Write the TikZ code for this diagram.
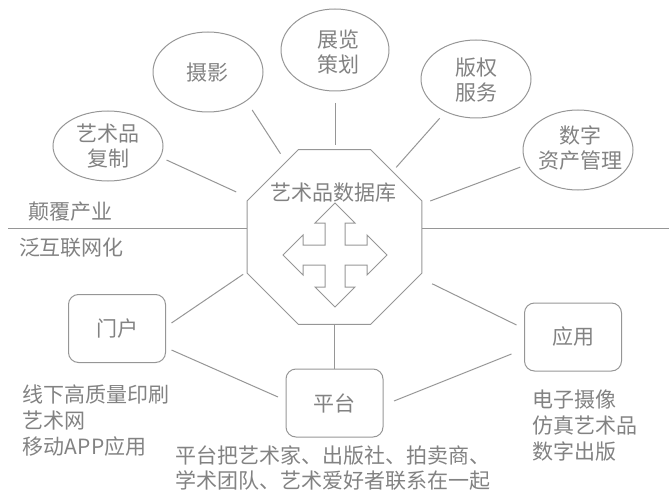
\documentclass[tikz,border=0pt]{standalone}
\usepackage{fontspec}
\setmainfont{Noto Sans CJK SC}
\usetikzlibrary{shapes.geometric}
\definecolor{txt}{RGB}{130,130,130}
\definecolor{ln}{RGB}{150,150,150}
\begin{document}
\begin{tikzpicture}[x=1pt,y=-1pt,
  every node/.style={text=txt, font=\fontsize{21}{25.5}\selectfont, inner sep=0pt, outer sep=0pt},
  bubble/.style={draw=ln, line width=1pt, ellipse},
  bubbletext/.style={align=center},
  card/.style={draw=ln, line width=1pt, rounded corners=10pt, minimum width=97pt, minimum height=68pt},
  link/.style={draw=ln, line width=1pt},
  lbl/.style={align=left, anchor=west, font=\fontsize{21}{26}\selectfont},
]
\useasboundingbox (0,0) rectangle (669,492);

% ellipses
\node[bubble, minimum width=110pt, minimum height=70pt] (e1) at (108,146) {};
\node[bubbletext] (e1t) at (108,146) {艺术品\\复制};
\node[bubble, minimum width=110pt, minimum height=80pt] (e2) at (208,72) {};
\node[bubbletext] (e2t) at (207,73) {摄影};
\node[bubble, minimum width=108pt, minimum height=82pt] (e3) at (335,50) {};
\node[bubbletext] (e3t) at (338,52) {展览\\策划};
\node[bubble, minimum width=110pt, minimum height=78pt] (e4) at (476,79) {};
\node[bubbletext] (e4t) at (476,80) {版权\\服务};
\node[bubble, minimum width=110pt, minimum height=80pt] (e5) at (578,150) {};
\node[bubbletext] (e5t) at (580,148) {数字\\资产管理};

% octagon
\node[draw=ln, line width=1pt, regular polygon, regular polygon sides=8, minimum size=189pt] (oct) at (334.5,237) {};
\node (octlabel) at (333,193) {艺术品数据库};
\begin{scope}[shift={(335,255)}]
  \draw[link, line join=miter] (0,-52) -- (20,-32) -- (10,-32) -- (10,-10) -- (32,-10) -- (32,-20) -- (52,0)
    -- (32,20) -- (32,10) -- (10,10) -- (10,32) -- (20,32) -- (0,52) -- (-20,32) -- (-10,32)
    -- (-10,10) -- (-32,10) -- (-32,20) -- (-52,0) -- (-32,-20) -- (-32,-10) -- (-10,-10)
    -- (-10,-32) -- (-20,-32) -- cycle;
\end{scope}

% dividing line
\coordinate (hl) at (8,228);
\coordinate (hr) at (669,228);
\draw[link] (hl) -- (hl -| oct.west);
\draw[link] (hr) -- (hr -| oct.east);
\node[anchor=west] (upper) at (28,212) {颠覆产业};
\node[anchor=west] (lower) at (19,248) {泛互联网化};

% boxes
\node[card] (menhu) at (117,328.5) {门户};
\node[card] (pingtai) at (334.5,403) {平台};
\node[card] (yingyong) at (573,337) {应用};

% connectors to ellipses
\draw[link, shorten <=7pt, shorten >=15pt] (e1.-12) -- (oct);
\draw[link, shorten <=11pt, shorten >=10pt] (e2.-37) -- (oct);
\draw[link, shorten <=12pt, shorten >=4.5pt] (e3.south) -- (e3.south |- oct.north);
\draw[link, shorten <=9pt, shorten >=5.5pt] (e4.-133.5) -- (oct);
\draw[link, shorten <=7pt, shorten >=9pt] (e5.196) -- (oct);

% lower connectors
\draw[link] ([shift={(6,-5.5)}]menhu.east) -- ([shift={(-4,2)}]oct.202.5);
\draw[link] ([shift={(6,21.5)}]menhu.east) -- ([shift={(-8,-6)}]pingtai.west);
\draw[link] (oct.south) -- (pingtai.north);
\draw[link] ([shift={(11,-2)}]pingtai.east) -- ([shift={(-13,17)}]yingyong.west);
\draw[link] ([shift={(11,10)}]oct.337.5) -- ([shift={(-8,-12)}]yingyong.west);

% descriptions
\node[lbl] (menhudesc) at (23,421) {线下高质量印刷\\艺术网\\移动APP应用};
\node[lbl] (yingyongdesc) at (532,425.5) {电子摄像\\仿真艺术品\\数字出版};
\node[lbl, font=\fontsize{21}{25}\selectfont] (pingtaidesc) at (175,468.5) {平台把艺术家、出版社、拍卖商、\\学术团队、艺术爱好者联系在一起};
\end{tikzpicture}
\end{document}
